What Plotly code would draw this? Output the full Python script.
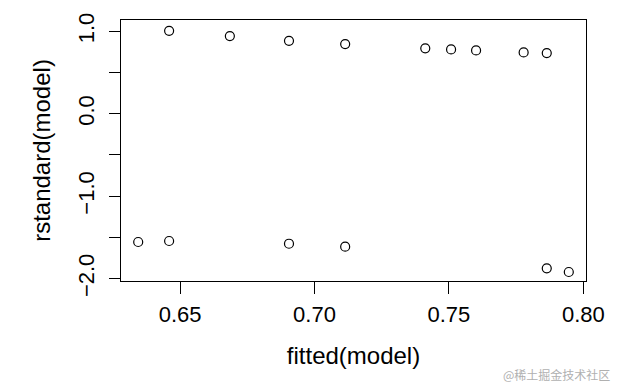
import plotly.graph_objects as go

fitted = [0.6344, 0.6459, 0.6459, 0.6685, 0.6905, 0.6905, 0.7114, 0.7114,
          0.7412, 0.7508, 0.7601, 0.7778, 0.7864, 0.7864, 0.7946]
rstd = [-1.555, -1.543, 1.006, 0.942, 0.885, -1.576, 0.845, -1.612,
        0.793, 0.780, 0.768, 0.744, 0.736, -1.874, -1.919]

x_ticks = [0.65, 0.70, 0.75, 0.80]
x_labels = ["0.65", "0.70", "0.75", "0.80"]
y_ticks = [1.0, 0.5, 0.0, -0.5, -1.0, -1.5, -2.0]
y_labels = ["1.0", "", "0.0", "", "\u22121.0", "", "\u22122.0"]

FONT = "Liberation Sans, Arial, sans-serif"

fig = go.Figure(go.Scatter(
    x=fitted, y=rstd, mode="markers",
    marker=dict(symbol="circle-open", size=9, color="black", line=dict(width=1.2, color="black")),
    showlegend=False,
))

fig.update_layout(
    width=622, height=387,
    margin=dict(l=121, r=36, t=20, b=106),
    paper_bgcolor="white", plot_bgcolor="white",
    font=dict(family=FONT, color="black"),
    xaxis=dict(
        range=[0.628, 0.801], tickvals=x_ticks, ticktext=x_labels,
        ticks="outside", ticklen=12, tickwidth=1, tickcolor="black",
        showline=True, linecolor="black", linewidth=1, mirror=True,
        showgrid=False, zeroline=False,
        tickfont=dict(size=22, family=FONT),
        ticklabelstandoff=2,
        title=dict(text="fitted(model)", font=dict(size=24, family=FONT), standoff=20),
    ),
    yaxis=dict(
        range=[-2.028, 1.137], tickvals=y_ticks, ticktext=y_labels,
        ticks="outside", ticklen=11, tickwidth=1, tickcolor="black",
        tickangle=-90,
        showline=True, linecolor="black", linewidth=1, mirror=True,
        showgrid=False, zeroline=False,
        tickfont=dict(size=22, family=FONT),
        ticklabelstandoff=6,
        title=dict(text="rstandard(model)", font=dict(size=24, family=FONT), standoff=16),
    ),
    annotations=[dict(
        text="@稀土掘金技术社区", xref="paper", yref="paper",
        x=1.055, y=-0.36, xanchor="right", yanchor="middle", showarrow=False,
        font=dict(size=12, color="#b0b0b0", family="Noto Sans CJK SC"),
    )],
)

fig.write_html("out.html")
